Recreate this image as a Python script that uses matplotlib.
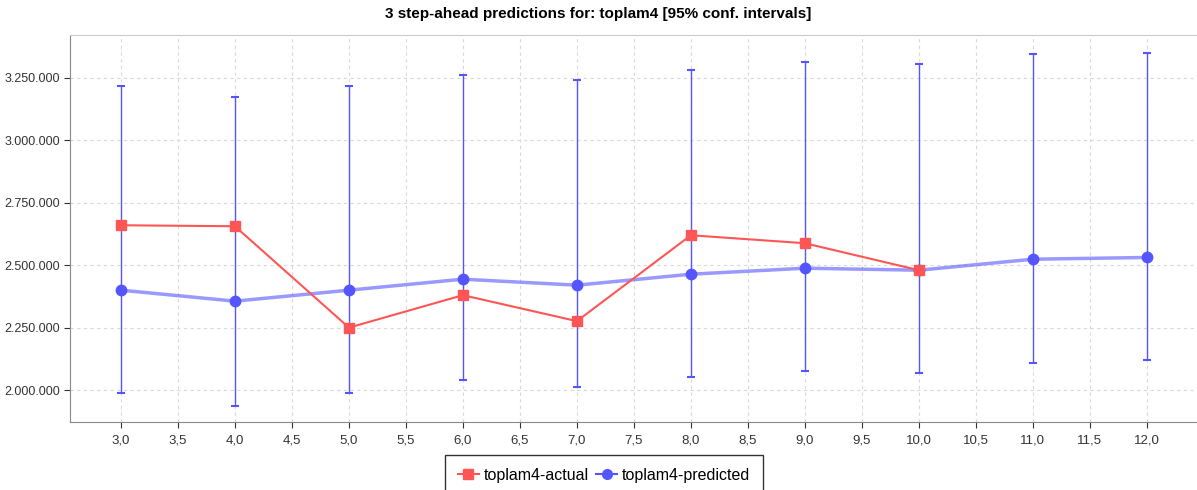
import matplotlib.pyplot as plt
import matplotlib.ticker as mticker
from matplotlib.lines import Line2D

plt.rcParams['font.family'] = ['Liberation Sans', 'DejaVu Sans']

steps = [3, 4, 5, 6, 7, 8, 9, 10, 11, 12]
predicted = [2400000, 2356000, 2400000, 2444000, 2420000, 2464000, 2488000, 2480000, 2524000, 2531000]
upper = [3218000, 3174000, 3218000, 3262000, 3242000, 3282000, 3314000, 3305000, 3345000, 3351000]
lower = [1987000, 1937000, 1987000, 2040000, 2012000, 2052000, 2076000, 2069000, 2107000, 2119000]

actual_steps = [3, 4, 5, 6, 7, 8, 9, 10]
actual = [2660000, 2656000, 2250000, 2380000, 2276000, 2620000, 2588000, 2480000]

RED = '#ff5555'
BLUE = '#5555ff'

fig = plt.figure(figsize=(11.97, 4.90), dpi=100)
ax = fig.add_axes([70 / 1197, 1 - 422 / 490, 1127 / 1197, 387 / 490])

err_lo = [p - l for p, l in zip(predicted, lower)]
err_hi = [u - p for p, u in zip(predicted, upper)]
ax.errorbar(steps, predicted, yerr=[err_lo, err_hi], fmt='none', ecolor=BLUE,
            elinewidth=1.0, capsize=3, capthick=1.5, zorder=2)
ax.plot(steps, predicted, color=BLUE, linewidth=2.5, alpha=0.6, zorder=3)
ax.plot(steps, predicted, color=BLUE, linewidth=0, marker='o', markersize=7.5, zorder=4)
ax.plot(actual_steps, actual, color=RED, linewidth=1.5, marker='s', markersize=7.5, zorder=5)

ax.set_xlim(2.553, 12.44)
ax.set_ylim(1872000, 3422000)
ax.xaxis.set_major_locator(mticker.MultipleLocator(0.5))
ax.yaxis.set_major_locator(mticker.MultipleLocator(250000))
ax.xaxis.set_major_formatter(mticker.FuncFormatter(lambda v, p: f'{v:.1f}'.replace('.', ',')))
ax.yaxis.set_major_formatter(mticker.FuncFormatter(lambda v, p: f'{int(v):,}'.replace(',', '.')))
ax.tick_params(axis='x', labelsize=9.5, colors='#333333', length=4, width=0.8, pad=5)
ax.tick_params(axis='y', labelsize=9, colors='#333333', length=4, width=0.8, pad=3)
ax.grid(True, linestyle=(0, (3, 3)), color='#d9d9d9', linewidth=0.8)
ax.set_axisbelow(True)
for side in ['left', 'bottom']:
    ax.spines[side].set_color('#888888')
ax.spines['top'].set_color('#cccccc')
ax.spines['right'].set_visible(False)

fig.suptitle('3 step-ahead predictions for: toplam4 [95% conf. intervals]',
             y=1 - 7 / 490, va='top', fontsize=11, fontweight='bold')

handles = [
    Line2D([], [], color=RED, linewidth=1.5, marker='s', markersize=7),
    Line2D([], [], color=BLUE, linewidth=1.5, marker='o', markersize=7),
]
labels = ['toplam4-actual', 'toplam4-predicted']
leg = fig.legend(handles, labels, loc='upper center',
                 bbox_to_anchor=(604 / 1197, 1 - 455 / 490), ncol=2, fontsize=11.5,
                 frameon=True, fancybox=False, handlelength=1.3, handletextpad=0.3,
                 columnspacing=0.5, borderpad=0.8, borderaxespad=0)
leg.get_frame().set_edgecolor('black')
leg.get_frame().set_linewidth(1.0)

fig.savefig('out.png', dpi=100)
